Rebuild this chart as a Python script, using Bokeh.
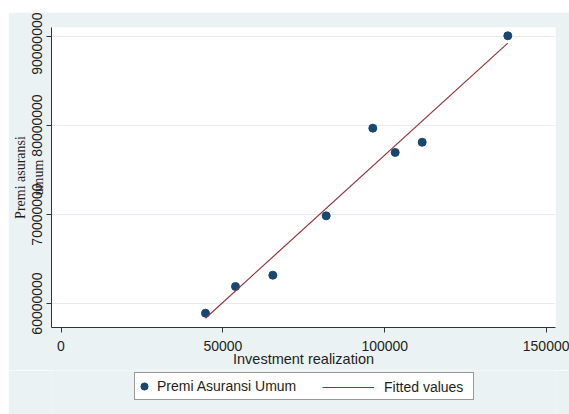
from bokeh.plotting import figure
from bokeh.layouts import column
from bokeh.models import Legend, LegendItem, FixedTicker, PrintfTickFormatter, Range1d
from bokeh.embed import file_html
from bokeh.resources import INLINE

# Data
investment = [44626, 53891, 65411, 81902, 96294, 103212, 111550, 137986]
premi = [58910000, 61910000, 63180000, 69850000, 79700000, 76970000, 78120000, 90080000]
fit_x = [44626, 137986]
fit_y = [58350000, 89250000]
x_ticks = [0, 50000, 100000, 150000]
y_ticks = [60000000, 70000000, 80000000, 90000000]
series_names = ["Premi Asuransi Umum", "Fitted values"]

BG = "#eaf2f3"
NAVY = "#1a476f"
MAROON = "#90353b"
SANS = "Liberation Sans"
SERIF = "Liberation Serif"
TXT = "#1e1e1e"

x_rng = (-2934, 152718)
y_rng = (57303000, 91011000)

p = figure(width=561, height=358, output_backend="svg", toolbar_location=None,
           x_range=Range1d(*x_rng), y_range=Range1d(*y_rng),
           min_border_left=43, min_border_right=14, min_border_top=15, min_border_bottom=43,
           background_fill_color="white", border_fill_color=BG, outline_line_color=None,
           margin=(12, 0, 0, 8))

p.xgrid.grid_line_color = None
p.ygrid.grid_line_color = "#e3ecee"
p.ygrid.grid_line_width = 1

xa = p.xaxis[0]
xa.ticker = FixedTicker(ticks=x_ticks)
xa.formatter = PrintfTickFormatter(format="%d")
xa.axis_label = "Investment realization"
xa.axis_label_text_font = SANS
xa.axis_label_text_font_size = "14.5px"
xa.axis_label_text_font_style = "normal"
xa.axis_label_text_color = TXT
xa.axis_label_standoff = -3
xa.major_label_text_font = SANS
xa.major_label_text_font_size = "14px"
xa.major_label_text_color = TXT
xa.major_label_standoff = 8
xa.major_tick_in = 0
xa.major_tick_out = 5
xa.minor_tick_line_color = None
xa.axis_line_color = "#333333"
xa.major_tick_line_color = "#333333"

ya = p.yaxis[0]
ya.ticker = FixedTicker(ticks=y_ticks)
ya.formatter = PrintfTickFormatter(format="%d")
ya.major_label_orientation = "vertical"
ya.major_label_text_font = SANS
ya.major_label_text_font_size = "14px"
ya.major_label_text_color = TXT
ya.major_label_standoff = 4
ya.major_tick_in = 0
ya.major_tick_out = 5
ya.minor_tick_line_color = None
ya.axis_line_color = "#333333"
ya.major_tick_line_color = "#333333"
ya.axis_label = "Premi asuransi\numum"
ya.axis_label_text_font = SERIF
ya.axis_label_text_font_size = "14px"
ya.axis_label_text_font_style = "normal"
ya.axis_label_text_color = TXT
ya.axis_label_standoff = -16

p.scatter(investment, premi, size=8, fill_color=NAVY, line_color=NAVY)
p.line(fit_x, fit_y, line_color=MAROON, line_width=1.2)

# legend strip below the plot (same background); its frame is aligned with the plot frame
lg = figure(width=561, height=44, output_backend="svg", toolbar_location=None,
            x_axis_type=None, y_axis_type=None,
            x_range=Range1d(0, 1), y_range=Range1d(0, 1),
            min_border=0, min_border_left=43, min_border_right=14, min_border_top=0, min_border_bottom=0,
            background_fill_color=BG, border_fill_color=BG, outline_line_color=None,
            margin=(0, 0, 0, 8))
lg.xgrid.grid_line_color = None
lg.ygrid.grid_line_color = None
# legend keys: same series, out of this strip's visible range (only their legend glyphs show)
key_sc = lg.scatter(investment, premi, fill_color=NAVY, line_color=NAVY)
key_ln = lg.line(fit_x, fit_y, line_color=MAROON, line_width=1.2)

leg1 = Legend(items=[LegendItem(label=series_names[0], renderers=[key_sc])],
              location=(83, 14), orientation="horizontal",
              padding=0, spacing=0, glyph_width=18, glyph_height=26,
              label_width=316, label_height=26, label_standoff=4,
              label_text_font=SANS, label_text_font_size="14px", label_text_color=TXT,
              background_fill_color="white", background_fill_alpha=1,
              border_line_color="#333333", border_line_width=1)
leg2 = Legend(items=[LegendItem(label=series_names[1], renderers=[key_ln])],
              location=(271, 14), orientation="horizontal",
              padding=0, spacing=0, glyph_width=52, glyph_height=26,
              label_width=20, label_height=26, label_standoff=10,
              label_text_font=SANS, label_text_font_size="14px", label_text_color=TXT,
              background_fill_alpha=0, border_line_alpha=0)
lg.add_layout(leg1)
lg.add_layout(leg2)

layout = column(p, lg, spacing=0)
open("out.html", "w").write(file_html(layout, INLINE))
